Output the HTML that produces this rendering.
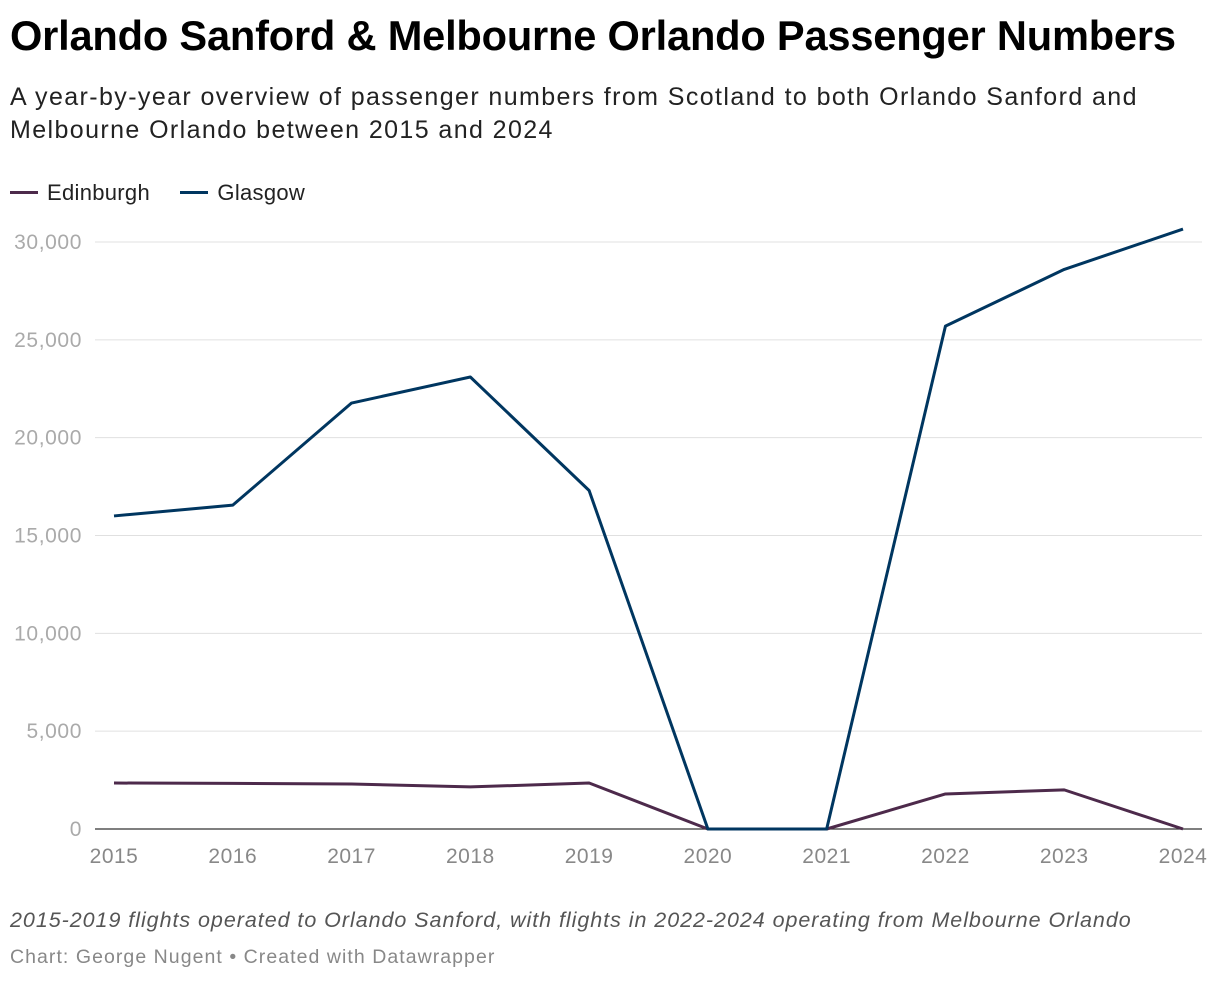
<!DOCTYPE html>
<html><head><meta charset="utf-8">
<style>
body{margin:0;background:#fff;font-family:"Liberation Sans",Arial,sans-serif;}
#wrap{position:relative;width:1220px;height:984px;overflow:hidden;}
h1{position:absolute;left:10px;top:12px;margin:0;font-size:41.6px;font-weight:bold;color:#000;letter-spacing:-0.2px;white-space:nowrap;}
.sub{position:absolute;left:10px;top:81px;font-size:25px;line-height:33px;color:#222;width:1160px;letter-spacing:1.4px;}
.legend{position:absolute;left:10px;top:174px;font-size:22px;color:#222;letter-spacing:0.3px;}
.legend span.item{display:inline-flex;align-items:center;margin-right:24px;}
.legend i{display:inline-block;width:28px;height:3px;margin-right:9px;}
.note{position:absolute;left:10px;top:908px;font-size:21.5px;font-style:italic;color:#555;letter-spacing:0.95px;white-space:nowrap;}
.credit{position:absolute;left:10px;top:946px;font-size:19.5px;color:#888;letter-spacing:1.05px;white-space:nowrap;}
svg{position:absolute;left:0;top:0;}
</style></head><body>
<div id="wrap">
<h1>Orlando Sanford &amp; Melbourne Orlando Passenger Numbers</h1>
<div class="sub">A year-by-year overview of passenger numbers from Scotland to both Orlando Sanford and Melbourne Orlando between 2015 and 2024</div>
<div class="legend">
<span class="item"><i style="background:#4d2a4b"></i>Edinburgh</span>
<span class="item"><i style="background:#003660"></i>Glasgow</span>
</div>
<svg id="plot" width="1220" height="984"></svg>
<div class="note">2015-2019 flights operated to Orlando Sanford, with flights in 2022-2024 operating from Melbourne Orlando</div>
<div class="credit">Chart: George Nugent • Created with Datawrapper</div>
</div>
<script>
const years=[2015,2016,2017,2018,2019,2020,2021,2022,2023,2024];
const glasgow=[16000,16550,21770,23100,17300,0,0,25700,28600,30660];
const edinburgh=[2350,2330,2300,2150,2350,0,0,1790,2000,0];
const yTicks=[0,5000,10000,15000,20000,25000,30000];
const yTickLabels=["0","5,000","10,000","15,000","20,000","25,000","30,000"];
const NS="http://www.w3.org/2000/svg";
const svg=document.getElementById('plot');
const x=i=>114+i*(1183-114)/(years.length-1);
const y=v=>829-v*(829-242)/30000;
function mk(t,a){const e=document.createElementNS(NS,t);for(const k in a)e.setAttribute(k,a[k]);svg.appendChild(e);return e;}
yTicks.forEach((t,i)=>{
 const g=mk('line',{x1:95,x2:1202,y1:y(t),y2:y(t),stroke:t===0?'#333':'#e0e0e0','stroke-width':t===0?1.3:1});
 
 
 const l=mk('text',{x:82,y:y(t)+7,'text-anchor':'end','font-size':21,'letter-spacing':0.6,fill:'#aaa','font-family':'Liberation Sans, Arial, sans-serif'});
 l.textContent=yTickLabels[i];
 
 
});
years.forEach((yr,i)=>{
 const l=mk('text',{x:x(i),y:863,'text-anchor':'middle','font-size':21,'letter-spacing':0.5,fill:'#888','font-family':'Liberation Sans, Arial, sans-serif'});
 l.textContent=yr;
 
 
});
function line(vals,color,name){
 const p=mk('polyline',{points:vals.map((v,i)=>x(i)+','+y(v)).join(' '),fill:'none',stroke:color,'stroke-width':3,'stroke-linejoin':'round'});
 
 
}
line(edinburgh,'#4d2a4b','edinburgh-line');
line(glasgow,'#003660','glasgow-line');
</script>
</body></html>
